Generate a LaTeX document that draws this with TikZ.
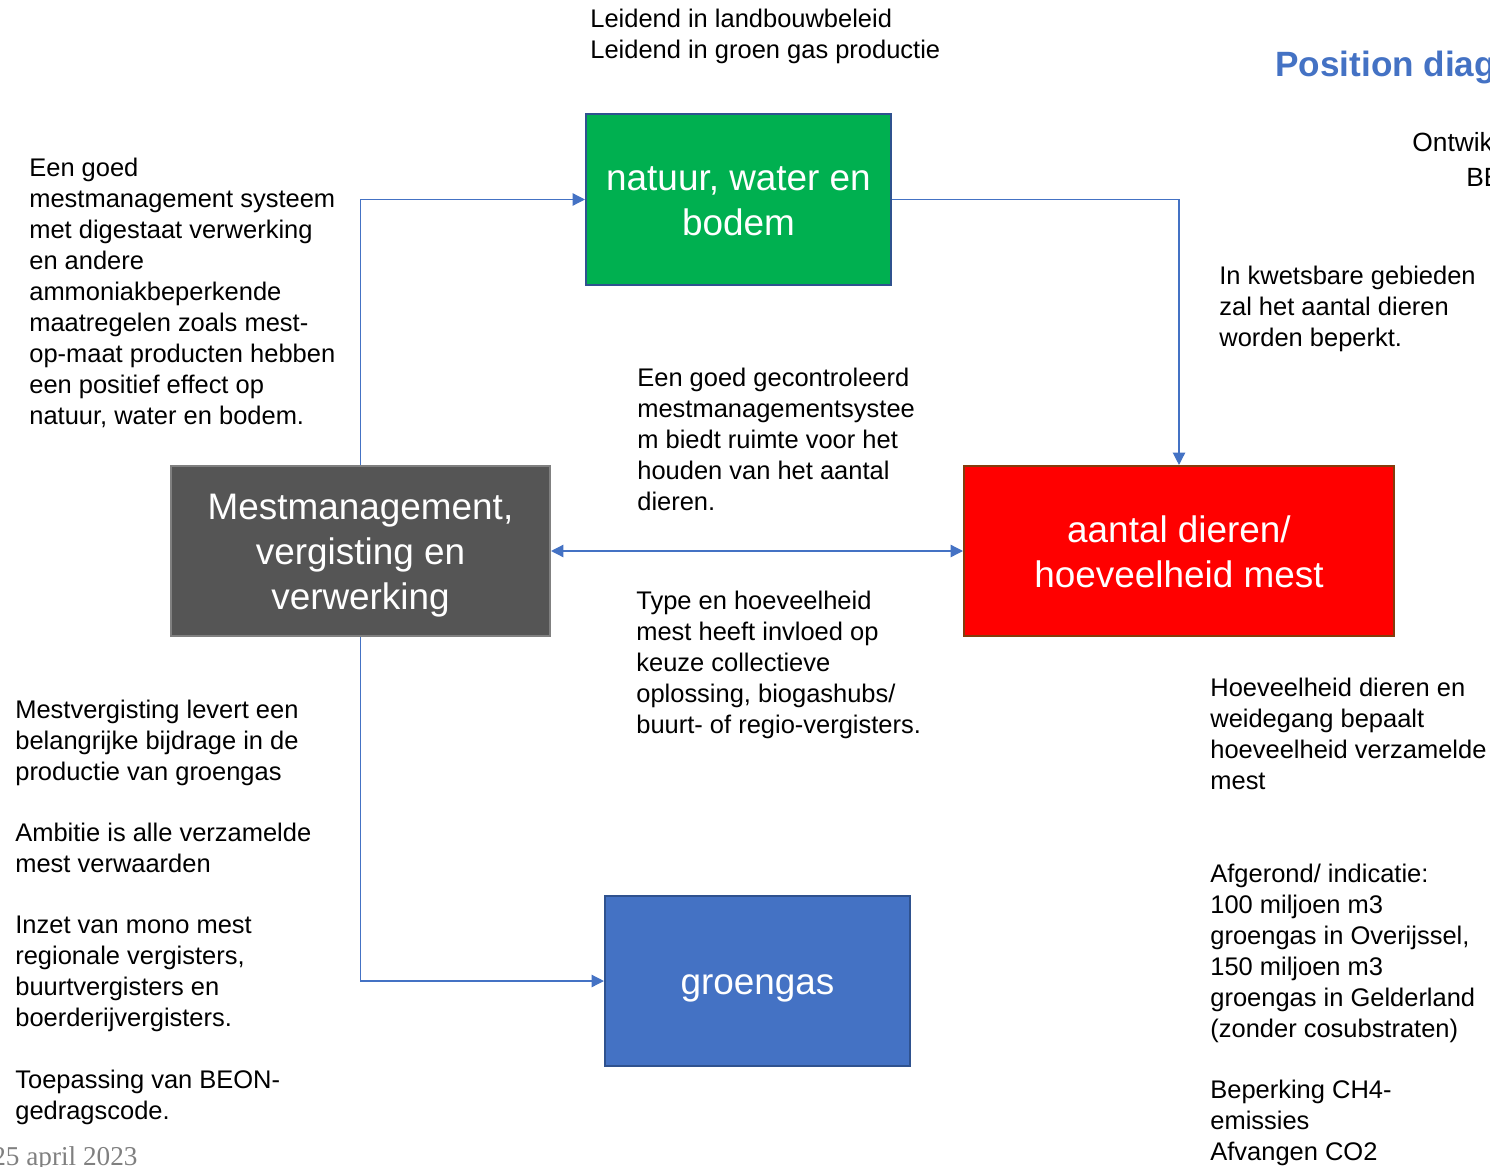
\documentclass[tikz,border=0pt]{standalone}
\usepackage{fontspec}
\setmainfont{Liberation Sans}
\newfontfamily\datefont{Liberation Serif}
\usetikzlibrary{arrows.meta}
\definecolor{boxgreen}{HTML}{00B050}
\definecolor{boxblue}{HTML}{4472C4}
\definecolor{boxgray}{HTML}{555555}
\definecolor{edgeblue}{HTML}{2F528F}
\definecolor{edgebrown}{HTML}{843C0C}
\definecolor{linkblue}{HTML}{4472C4}

\begin{document}
\begin{tikzpicture}[x=0.02cm,y=-0.02cm,
    main node/.style={rectangle,draw,line width=1.2pt,text=white,align=center,
      font=\fontsize{21}{25.5}\selectfont},
    note/.style={anchor=north west,inner sep=0pt,align=left,
      font=\fontsize{14.5}{17.6}\selectfont},
    link/.style={draw=linkblue,line width=0.75pt,-{Triangle[length=7pt,width=7pt]}}]
    \useasboundingbox (0,0) rectangle (1490,1166);

    % the four blocks
    \node[main node, fill=boxgreen, draw=edgeblue, minimum width=6.1cm, minimum height=3.42cm] (natuur) at (738.5,199.5) {\rule{0pt}{16pt}natuur, water en\\bodem};
    \node[main node, fill=boxgray, draw=gray, minimum width=7.58cm, minimum height=3.4cm] (mest) at (360.5,551) {\rule{0pt}{20pt}Mestmanagement,\\vergisting en\\verwerking};
    \node[main node, fill=red, draw=edgebrown, minimum width=8.6cm, minimum height=3.4cm] (dieren) at (1179,551) {\rule{0pt}{16pt}aantal dieren/\\hoeveelheid mest};
    \node[main node, fill=boxblue, draw=edgeblue, minimum width=6.1cm, minimum height=3.4cm, text height=20pt, text depth=4.4pt] (gas) at (757.5,981) {groengas};

    % links
    \path[link] (mest.north) |- (natuur.west);
    \path[link] (natuur.east) -| (dieren.north);
    \path[link,{Triangle[length=7pt,width=7pt]}-{Triangle[length=7pt,width=7pt]}] (mest.east) -- (dieren.west);
    \path[link] (mest.south) |- (gas.west);

    % texts
    \node[note] (leidend) at (590,9) {Leidend in landbouwbeleid\\Leidend in groen gas productie};
    \node[note] (effect) at (29,158) {Een goed\\mestmanagement systeem\\met digestaat verwerking\\en andere\\ammoniakbeperkende\\maatregelen zoals mest-\\op-maat producten hebben\\een positief effect op\\natuur, water en bodem.};
    \node[note] (ruimte) at (637,368) {Een goed gecontroleerd\\mestmanagementsystee\\m biedt ruimte voor het\\houden van het aantal\\dieren.};
    \node[note] (type) at (636,591) {Type en hoeveelheid\\mest heeft invloed op\\keuze collectieve\\oplossing, biogashubs/\\buurt- of regio-vergisters.};
    \node[note] (kwetsbaar) at (1219,266) {In kwetsbare gebieden\\zal het aantal dieren\\worden beperkt.};
    \node[note] (weidegang) at (1210,678) {Hoeveelheid dieren en\\weidegang bepaalt\\hoeveelheid verzamelde\\mest};
    \node[note] (indicatie) at (1210,864) {Afgerond/ indicatie:\\100 miljoen m3\\groengas in Overijssel,\\150 miljoen m3\\groengas in Gelderland\\(zonder cosubstraten)};
    \node[note] (emissies) at (1210,1080) {Beperking CH4-\\emissies\\Afvangen CO2};
    \node[note] (bijdrage) at (15,700) {Mestvergisting levert een\\belangrijke bijdrage in de\\productie van groengas};
    \node[note] (ambitie) at (15,823) {Ambitie is alle verzamelde\\mest verwaarden};
    \node[note] (inzet) at (15,916) {Inzet van mono mest\\regionale vergisters,\\buurtvergisters en\\boerderijvergisters.};
    \node[note] (beon) at (15,1070) {Toepassing van BEON-\\gedragscode.};

    % title and loose bits
    \node[anchor=base west,inner sep=0pt,text=linkblue,font=\fontsize{20}{24}\selectfont\bfseries] (titel) at (1275,77) {Position diag};
    \node[anchor=base west,inner sep=0pt,font=\fontsize{15}{17.6}\selectfont] (ontw) at (1412,152) {Ontwik};
    \node[anchor=base west,inner sep=0pt,font=\fontsize{15}{17.6}\selectfont] (be) at (1466,186) {BE};
    \node[anchor=base west,inner sep=0pt,text=gray,font=\datefont\fontsize{15.5}{19}\selectfont] (datum) at (-8,1165) {25 april 2023};
\end{tikzpicture}
\end{document}
